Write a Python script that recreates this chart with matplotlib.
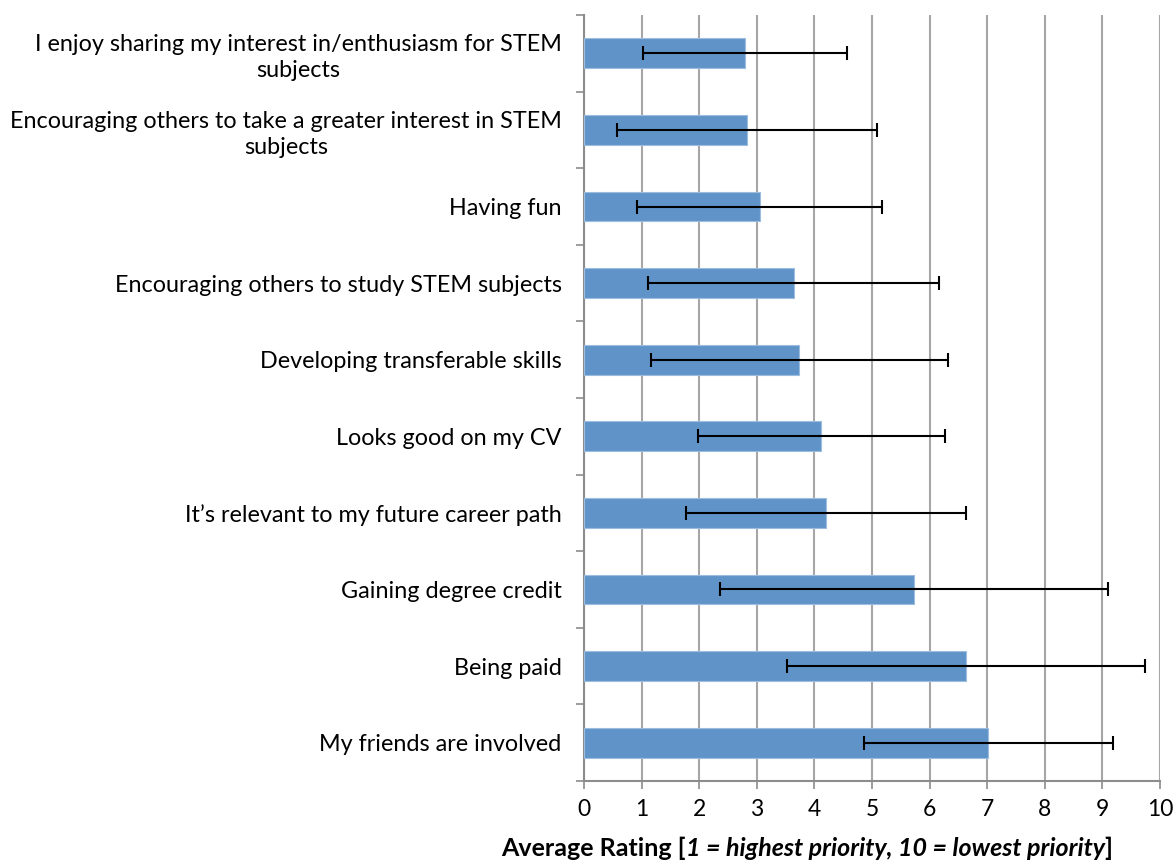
import numpy as np
import matplotlib.pyplot as plt
from matplotlib.ticker import FixedLocator

plt.rcParams['font.family'] = ['Lato', 'DejaVu Sans']

# data, top to bottom as shown
labels = [
    "I enjoy sharing my interest in/enthusiasm for STEM\nsubjects",
    "Encouraging others to take a greater interest in STEM\nsubjects",
    "Having fun",
    "Encouraging others to study STEM subjects",
    "Developing transferable skills",
    "Looks good on my CV",
    "It\u2019s relevant to my future career path",
    "Gaining degree credit",
    "Being paid",
    "My friends are involved",
]
means = [2.79, 2.83, 3.05, 3.64, 3.74, 4.12, 4.21, 5.73, 6.63, 7.02]
errs = [1.77, 2.26, 2.13, 2.52, 2.58, 2.14, 2.43, 3.37, 3.11, 2.16]
x_ticks = list(range(0, 11))

fig = plt.figure(figsize=(11.74, 8.64), dpi=100)
ax = fig.add_axes([0.4974, 0.0961, 0.4906, 0.8865])

y = np.arange(len(labels))
ax.barh(y, means, height=0.39, color='#6094c8', edgecolor='#9dbde0', linewidth=0.8, zorder=3)
ax.errorbar(means, y, xerr=errs, fmt='none', ecolor='black', elinewidth=1.5,
            capsize=5, capthick=1.5, zorder=4)

ax.set_xlim(0, 10)
ax.set_ylim(len(labels) - 0.5, -0.5)
ax.set_xticks(x_ticks)
ax.set_xticklabels([str(t) for t in x_ticks], fontsize=16.5)
ax.xaxis.grid(True, color='#a6a6a6', linewidth=1.5, zorder=0)
ax.set_axisbelow(True)

ax.set_yticks(y)
ax.set_yticklabels(labels, fontsize=16.8, multialignment='center', linespacing=1.3)
ax.yaxis.set_minor_locator(FixedLocator(np.arange(-0.5, len(labels), 1.0)))
ax.tick_params(axis='y', which='major', length=0, pad=16)
ax.tick_params(axis='y', which='minor', length=6, width=1.2, color='#8c8c8c')
ax.tick_params(axis='x', length=6, width=1.2, color='#8c8c8c', pad=7)

for s in ['top', 'right']:
    ax.spines[s].set_visible(False)
for s in ['left', 'bottom']:
    ax.spines[s].set_color('#8c8c8c')
    ax.spines[s].set_linewidth(1.5)

# x axis title: bold with a bold italic middle part
parts = [("Average Rating [", 'normal'),
         ("1 = highest priority, 10 = lowest priority", 'italic'),
         ("]", 'normal')]
fig.canvas.draw()
r = fig.canvas.get_renderer()
texts = []
for s, st in parts:
    t = fig.text(0, 0.009, s, fontsize=18, fontweight='bold', fontstyle=st, va='baseline')
    texts.append(t)
widths = [t.get_window_extent(r).width for t in texts]
total = sum(widths)
x0 = 807 - total / 2
for t, w in zip(texts, widths):
    t.set_x(x0 / fig.bbox.width)
    x0 += w

fig.savefig('out.png', dpi=100)
